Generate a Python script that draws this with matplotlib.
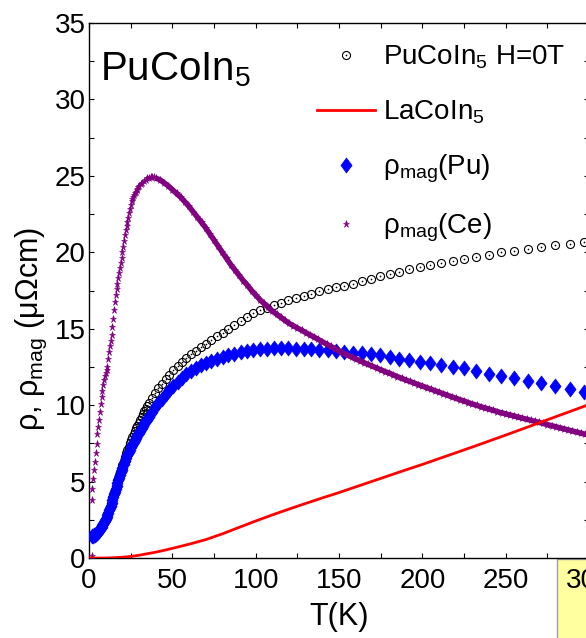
import matplotlib
matplotlib.use("Agg")
import matplotlib.pyplot as plt
from matplotlib.path import Path
from matplotlib.patches import Rectangle
from matplotlib.legend_handler import HandlerTuple

# ---------------- data ----------------
# PuCoIn5 resistivity (H = 0 T) and its magnetic part, on a shared temperature grid
T_pu = [2, 2.5, 3, 3.5, 4, 4.5, 5, 5.5, 6, 6.5, 7, 7.5, 8, 8.5, 9, 9.5, 10, 10.5, 11, 11.5,
        12, 12.5, 13, 13.5, 14, 14.5, 15, 15.5, 16, 16.5, 17, 17.5, 18, 18.5, 19, 19.5, 20,
        20.75, 21.5, 22.25, 23, 23.75, 24.5, 25.25, 26, 26.75, 27.5,
        28.25, 29, 29.85, 30.7, 31.55, 32.4, 33.25, 34.1, 35, 35.9,
        37.7, 39.6, 41.6, 43.7, 45.9, 48.2, 50.6, 53.1, 55.7, 58.4,
        61.2, 64.1, 67.1, 70.2, 73.4, 76.7, 80.1, 83.6, 87.2, 90.9,
        94.7, 98.6, 102.6, 106.7, 110.9, 115.2, 119.6, 124.1, 128.7, 133.4,
        138.2, 143.1, 148.1, 153.2, 158.4, 163.7, 169.1, 174.6, 180.3, 186.1,
        192.1, 198.3, 204.7, 211.3, 218.1, 225.1, 232.3, 239.7, 247.3, 255.1,
        263.1, 271.3, 279.7, 288.3, 297.1]

rho_pucoin5 = [1.47, 1.49, 1.52, 1.55, 1.59, 1.64, 1.7, 1.76, 1.83, 1.91, 2.0, 2.09, 2.19, 2.29, 2.4,
               2.51, 2.63, 2.75, 2.88, 3.0, 3.16, 3.33, 3.51, 3.7, 3.9, 4.1, 4.29, 4.48, 4.67, 4.86,
               5.05, 5.24, 5.42, 5.6, 5.77, 5.94, 6.1,
               6.36, 6.6, 6.84, 7.06, 7.28, 7.5, 7.7, 7.9, 8.1, 8.3,
               8.48, 8.66, 8.86, 9.05, 9.24, 9.42, 9.6, 9.78, 9.95, 10.12,
               10.45, 10.78, 11.1, 11.4, 11.7, 12.0, 12.3, 12.57, 12.82, 13.07,
               13.32, 13.56, 13.8, 14.03, 14.27, 14.5, 14.75, 15.0, 15.27, 15.52,
               15.77, 16.0, 16.2, 16.38, 16.55, 16.7, 16.85, 17.0, 17.15, 17.3,
               17.45, 17.58, 17.7, 17.82, 17.95, 18.1, 18.28, 18.43, 18.58, 18.73,
               18.88, 19.03, 19.18, 19.3, 19.43, 19.56, 19.7, 19.85, 20.0, 20.1,
               20.2, 20.33, 20.45, 20.55, 20.68]

rho_mag_pu = [1.45, 1.47, 1.49, 1.52, 1.56, 1.61, 1.66, 1.72, 1.79, 1.87, 1.95, 2.04, 2.13, 2.23, 2.34,
              2.45, 2.57, 2.7, 2.83, 2.97, 3.12, 3.27, 3.43, 3.6, 3.78, 3.97, 4.16, 4.35, 4.53, 4.72,
              4.9, 5.08, 5.26, 5.43, 5.6, 5.76, 5.91,
              6.13, 6.34, 6.54, 6.73, 6.91, 7.08, 7.25, 7.41, 7.57, 7.72,
              7.87, 8.02, 8.18, 8.34, 8.5, 8.65, 8.8, 8.95, 9.1, 9.25,
              9.55, 9.85, 10.14, 10.42, 10.7, 10.98, 11.25, 11.52, 11.78, 12.02,
              12.24, 12.43, 12.6, 12.75, 12.9, 13.02, 13.13, 13.25, 13.37, 13.47,
              13.56, 13.62, 13.67, 13.7, 13.72, 13.72, 13.72, 13.7, 13.7, 13.68,
              13.62, 13.58, 13.52, 13.47, 13.42, 13.38, 13.32, 13.25, 13.15, 13.05,
              12.93, 12.83, 12.73, 12.63, 12.52, 12.4, 12.25, 12.07, 11.9, 11.75,
              11.6, 11.42, 11.25, 11.05, 10.85]

# LaCoIn5 (non-magnetic reference)
T_la = [0, 5, 10, 15, 20, 25, 30, 35, 40, 45, 50, 60, 70, 80, 90, 100, 110, 120,
        130, 140, 150, 160, 170, 180, 190, 200, 210, 220, 230, 240, 250, 260, 270, 280, 290, 300]
rho_la = [0, 0, 0, 0.02, 0.05, 0.1, 0.18, 0.28, 0.38, 0.5, 0.63, 0.9, 1.2, 1.58, 2.0, 2.42, 2.82, 3.2,
          3.57, 3.93, 4.28, 4.65, 5.02, 5.39, 5.76, 6.12, 6.5, 6.88, 7.26, 7.65, 8.04, 8.44, 8.84, 9.24, 9.64, 10.04]

# magnetic resistivity of the Ce analogue
T_ce = [1.6, 1.8,
        2.0, 2.5, 3.0, 3.5, 4.0, 4.5, 5.0, 5.5, 6.0, 6.5,
        7.0, 7.5, 8.0, 8.5, 9.0, 9.5, 10.0, 10.5, 11.0, 11.5,
        12.0, 12.5, 13.0, 13.5, 14.0, 14.5, 15.0, 15.5, 16.0, 16.5,
        17.0, 17.5, 18.0, 18.5, 19.0, 19.5, 20.0, 20.5, 21.0, 21.5,
        22.0, 22.5, 23.0, 23.5, 24.0, 24.5, 25.0, 25.5, 26.0, 26.5,
        27.0, 27.5, 28.0, 28.5, 29.0, 29.5, 30.0,
        31, 32, 33, 34, 35, 36, 37, 38, 39,
        40, 42.5, 45, 47.5, 50, 52.5, 55, 57.5, 60, 62.5,
        65, 67.5, 70, 72.5, 75, 77.5, 80, 82.5, 85, 87.5,
        90, 92.5, 95, 97.5, 100, 102.5, 105, 107.5, 110, 112.5,
        115, 117.5, 120, 122.5, 125, 127.5, 130, 132.5, 135, 137.5,
        140, 142.5, 145, 147.5, 150, 152.5, 155, 157.5, 160, 162.5,
        165, 167.5, 170, 172.5, 175, 177.5, 180, 182.5, 185, 187.5,
        190, 192.5, 195, 197.5, 200, 202.5, 205, 207.5, 210, 212.5,
        215, 217.5, 220, 222.5, 225, 227.5, 230, 232.5, 235, 237.5,
        240, 242.5, 245, 247.5, 250, 252.5, 255, 257.5, 260, 262.5,
        265, 267.5, 270, 272.5, 275, 277.5, 280, 282.5, 285, 287.5,
        290, 292.5, 295, 297.5, 300]
rho_mag_ce = [0.1, 3.8,
              4.5, 5.2, 5.75, 6.3, 6.85, 7.45, 8.1, 8.55, 9.05, 9.55,
              10.1, 10.55, 10.95, 11.35, 11.65, 11.9, 12.1, 12.3, 12.5, 13.0,
              13.45, 13.85, 14.2, 14.6, 15.1, 15.65, 16.2, 16.75, 17.2, 17.6,
              17.95, 18.3, 18.65, 19.0, 19.3, 19.65, 20.0, 20.35, 20.75, 21.15,
              21.45, 21.75, 22.0, 22.27, 22.55, 22.8, 23.07, 23.35, 23.5, 23.62,
              23.75, 23.85, 23.95, 24.05, 24.15, 24.25, 24.35,
              24.45, 24.55, 24.65, 24.75, 24.83, 24.88, 24.92, 24.94, 24.92,
              24.85, 24.75, 24.55, 24.35, 24.1, 23.85, 23.6, 23.3, 23.0, 22.65,
              22.3, 21.95, 21.6, 21.2, 20.8, 20.4, 20.0, 19.6, 19.2, 18.85,
              18.5, 18.15, 17.85, 17.5, 17.2, 16.9, 16.65, 16.4, 16.15, 15.95,
              15.75, 15.55, 15.35, 15.2, 15.05, 14.9, 14.75, 14.6, 14.45, 14.3,
              14.15, 14.0, 13.85, 13.7, 13.55, 13.4, 13.27, 13.15, 13.03, 12.9,
              12.78, 12.66, 12.55, 12.43, 12.32, 12.2, 12.1, 11.98, 11.87, 11.76,
              11.65, 11.55, 11.45, 11.35, 11.25, 11.15, 11.05, 10.95, 10.85, 10.75,
              10.65, 10.55, 10.45, 10.36, 10.27, 10.17, 10.08, 9.99, 9.9, 9.82,
              9.74, 9.66, 9.58, 9.5, 9.43, 9.36, 9.29, 9.22, 9.15, 9.08,
              9.01, 8.94, 8.87, 8.8, 8.73, 8.66, 8.59, 8.52, 8.45, 8.38,
              8.31, 8.24, 8.17, 8.1, 8.03]

x_ticks = [0, 50, 100, 150, 200, 250, 300]
y_ticks = [0, 5, 10, 15, 20, 25, 30, 35]
labels = ["PuCoIn$_5$ H=0T", "LaCoIn$_5$",
          "ρ$_{\\mathrm{mag}}$(Pu)", "ρ$_{\\mathrm{mag}}$(Ce)"]

# ---------------- style ----------------
plt.rcParams["font.family"] = ["Liberation Sans", "DejaVu Sans"]
plt.rcParams["mathtext.fontset"] = "custom"
plt.rcParams["mathtext.rm"] = "Liberation Sans"
plt.rcParams["mathtext.it"] = "Liberation Sans:italic"
plt.rcParams["mathtext.bf"] = "Liberation Sans:bold"
plt.rcParams["mathtext.sf"] = "Liberation Sans"

W, H = 586, 638
fig = plt.figure(figsize=(W / 100, H / 100), dpi=100)
ax = fig.add_axes([89 / W, (H - 558) / H, 500 / W, 535 / H])

# tall diamond marker
diamond = Path([(0, -1), (0.74, 0), (0, 1), (-0.74, 0), (0, -1)],
               [Path.MOVETO, Path.LINETO, Path.LINETO, Path.LINETO, Path.CLOSEPOLY])

PURPLE = "#800080"
h_circ, = ax.plot(T_pu, rho_pucoin5, ls="none", marker="o", ms=5.8, mfc="none",
                  mec="black", mew=0.8, zorder=2)
h_dot, = ax.plot(T_pu, rho_pucoin5, ls="none", marker="o", ms=1.2, mfc="black",
                 mec="none", zorder=2)
h_pu, = ax.plot(T_pu, rho_mag_pu, ls="none", marker=diamond, ms=10.8,
                color="#0000ff", mec="#0000ff", mew=0.5, zorder=3)

# the Ce data above the maximum are so dense that the stars merge into a band
i_band = T_ce.index(40)
ax.plot(T_ce[i_band:], rho_mag_ce[i_band:], color=PURPLE, lw=3.9, zorder=4,
        solid_capstyle="butt")
h_ce, = ax.plot(T_ce, rho_mag_ce, ls="none", marker="*", ms=5.2,
                color=PURPLE, mec=PURPLE, mew=0.4, zorder=4)
h_la, = ax.plot(T_la, rho_la, color="#ff0000", lw=2.0, zorder=5)

ax.set_xlim(0, 300)
ax.set_ylim(0, 35)
ax.set_xticks(x_ticks)
ax.set_yticks(y_ticks)
ax.set_xticks([25, 75, 125, 175, 225, 275], minor=True)
ax.set_yticks([2.5, 7.5, 12.5, 17.5, 22.5, 27.5, 32.5], minor=True)
ax.tick_params(which="both", direction="in", top=True, right=True,
               length=3.8, width=0.8, labelsize=20)
ax.tick_params(axis="x", which="major", pad=7)
ax.tick_params(axis="y", which="major", pad=2.5)
for s in ax.spines.values():
    s.set_linewidth(1.0)

ax.set_xlabel("T(K)", fontsize=22, labelpad=0)
ax.xaxis.set_label_coords(0.5, -0.083)
ax.set_ylabel("ρ, ρ$_{\\mathsf{mag}}$ (μΩcm)", fontsize=22)
ax.yaxis.set_label_coords(-0.08, 0.428)

ax.text(0.022, 0.893, "PuCoIn$_5$", transform=ax.transAxes, fontsize=29,
        ha="left", va="baseline")

leg = ax.legend([(h_circ, h_dot), h_la, h_pu, h_ce], labels,
                handler_map={tuple: HandlerTuple(ndivide=1)},
                loc="upper left", bbox_to_anchor=(0.456, 0.961),
                frameon=False, fontsize=20, handlelength=2.08,
                handletextpad=0.29, labelspacing=0.97,
                borderpad=0, borderaxespad=0, markerscale=1.0)

# highlighted box behind the last tick label
fig.patches.append(Rectangle((557 / W, -0.01), 0.08, (H - 559) / H + 0.01,
                             transform=fig.transFigure, facecolor="#ffffa0",
                             edgecolor="#a0a0a0", lw=1.0, zorder=-1))

fig.savefig("out.png", dpi=100)
